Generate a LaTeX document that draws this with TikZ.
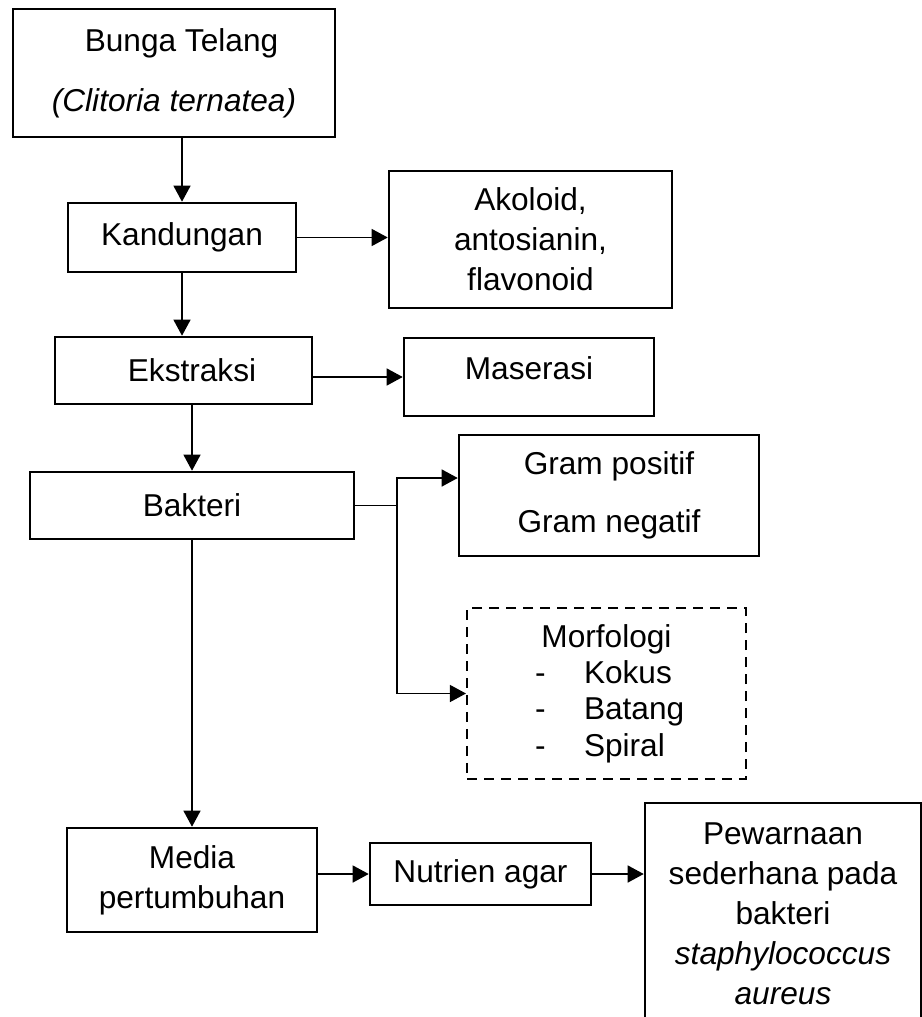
\documentclass[tikz,border=0pt]{standalone}
\usepackage{fontspec}
\setmainfont{Liberation Sans}
\usetikzlibrary{arrows.meta}

\begin{document}
\begin{tikzpicture}[x=0.02cm, y=-0.02cm]
\tikzset{kotak/.style={draw, line width=1.5pt, inner sep=0pt, align=center, font=\fontsize{18}{22.7}\selectfont}}
\tikzset{kotakputus/.style={kotak, line width=1.2pt, dash pattern=on 0.2cm off 0.14cm}}
\tikzset{panah/.style={line width=0.75pt, -{Triangle[length=0.32cm, width=0.34cm]}}}
\useasboundingbox (0, 0) rectangle (922, 1017);
\clip (0, 0) rectangle (922, 1017);
\node[kotak, minimum width=6.44cm, minimum height=2.56cm] (bunga) at (174, 73) {\hspace*{0.3cm}Bunga Telang\\[0.4cm]\textit{(Clitoria ternatea)}};
\node[kotak, minimum width=4.56cm, minimum height=1.38cm] (kandungan) at (182, 237.5) {Kandungan};
\node[kotak, minimum width=5.66cm, minimum height=2.74cm] (akoloid) at (530.5, 239.5) {Akoloid,\\antosianin,\\flavonoid};
\node[kotak, minimum width=5.14cm, minimum height=1.34cm] (ekstraksi) at (183.5, 370.5) {\hspace*{0.34cm}Ekstraksi};
\node[kotak, minimum width=5.0cm, minimum height=1.56cm] (maserasi) at (529, 377) {Maserasi\rule[-0.34cm]{0pt}{0.34cm}};
\node[kotak, minimum width=6.48cm, minimum height=1.34cm] (bakteri) at (192, 505.5) {Bakteri};
\node[kotak, minimum width=6.0cm, minimum height=2.42cm] (gram) at (609, 495.5) {Gram positif\\[0.36cm]Gram negatif};
\node[kotakputus, minimum width=5.58cm, minimum height=3.42cm] (morf) at (606.5, 693.5) {Morfologi\\[-0.07cm]\makebox[2.86cm][l]{\makebox[0.98cm][l]{-}Kokus}\\[-0.07cm]\makebox[2.86cm][l]{\makebox[0.98cm][l]{-}Batang}\\[-0.07cm]\makebox[2.86cm][l]{\makebox[0.98cm][l]{-}Spiral}};
\node[kotak, minimum width=5.0cm, minimum height=2.08cm] (media) at (192, 880) {Media\\pertumbuhan};
\node[kotak, minimum width=4.42cm, minimum height=1.24cm] (nutrien) at (480.5, 874) {Nutrien agar};
\node[kotak, minimum width=5.52cm, minimum height=4.44cm] (pewarnaan) at (783, 914) {Pewarnaan\\sederhana pada\\bakteri\\\textit{staphylococcus}\\\textit{aureus}};
\coordinate (cabang) at (397, 505.5);
\draw[panah] (bunga.south -| kandungan.north) -- (kandungan.north);
\draw[panah] (kandungan.east) -- (kandungan.east -| akoloid.west);
\draw[panah] (kandungan.south) -- (kandungan.south |- ekstraksi.north);
\draw[panah] (maserasi.west -| ekstraksi.east) -- (maserasi.west);
\draw[panah] (ekstraksi.south -| bakteri.north) -- (bakteri.north);
\draw[line width=0.75pt] (bakteri.east) -- (cabang);
\draw[panah] (cabang) |- ([yshift=0.35cm]gram.west);
\draw[panah] (cabang) |- (morf.west);
\draw[panah] (bakteri.south) -- (media.north);
\draw[panah] (media.east |- nutrien.west) -- (nutrien.west);
\draw[panah] (nutrien.east) -- (nutrien.east -| pewarnaan.west);
\end{tikzpicture}
\end{document}
